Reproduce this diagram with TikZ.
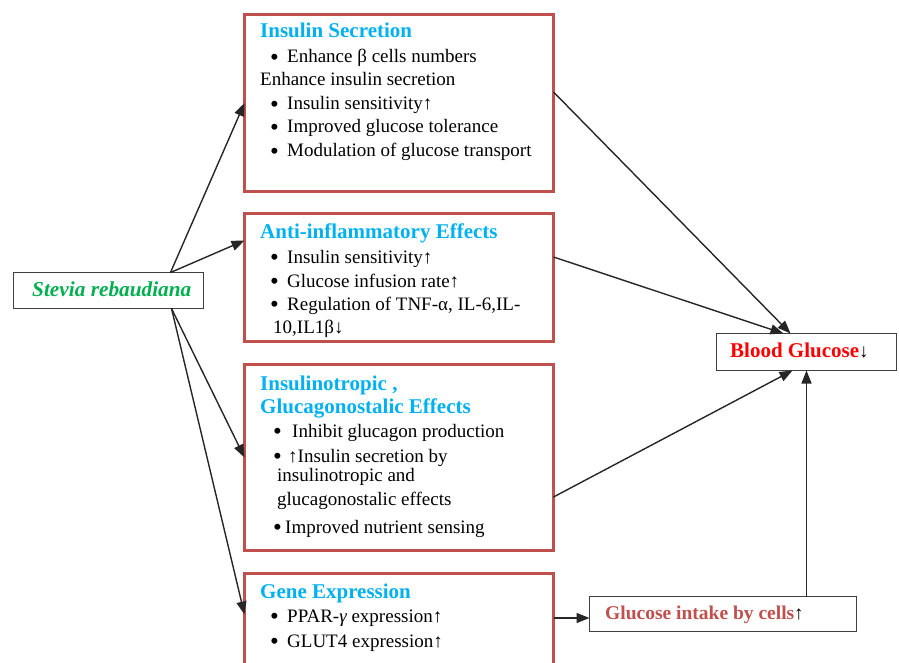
\documentclass[tikz,border=0pt]{standalone}
\usepackage{fontspec}
\setmainfont{Liberation Serif}
\usetikzlibrary{arrows.meta,calc}
\definecolor{boxred}{RGB}{192,80,77}
\definecolor{headcyan}{RGB}{0,176,240}
\definecolor{stgreen}{RGB}{0,176,80}
\definecolor{bgred}{RGB}{255,0,0}
\definecolor{grayline}{RGB}{64,64,64}
\newcommand{\bl}[1]{\makebox[#1][l]{\raisebox{-2.3pt}{\fontsize{25}{25}\selectfont\textbullet}}}
\begin{document}
\begin{tikzpicture}[x=1pt,y=-1pt,
 redbox/.style={draw=boxred,line width=3.5pt,outer sep=0pt,inner sep=0pt,anchor=north west,minimum width=309pt},
 plainbox/.style={draw=grayline,line width=1.3pt,outer sep=0pt,inner sep=0pt,anchor=north west,fill=white},
 head/.style={anchor=base west,inner sep=0pt,font=\fontsize{21}{25}\selectfont\bfseries,text=headcyan},
 body/.style={anchor=base west,inner sep=0pt,font=\fontsize{19}{23}\selectfont},
 conn/.style={draw=black!85,line width=1.4pt,-{Triangle[length=13pt,width=10pt]}}
]
\useasboundingbox (0,0) rectangle (899,663);

% boxes
\node[plainbox,minimum width=190pt,minimum height=36pt] (st) at (13.5,272.5) {};
\node[redbox,minimum height=177pt] (b1) at (244.5,14.5) {};
\node[redbox,minimum height=128pt] (b2) at (244.5,213.5) {};
\node[redbox,minimum height=186pt] (b3) at (244.5,364.5) {};
\node[redbox,minimum height=120pt] (b4) at (244.5,573.5) {};
\node[plainbox,minimum width=180pt,minimum height=37pt] (bg) at (716.5,333.5) {};
\node[plainbox,minimum width=267pt,minimum height=35pt] (gi) at (589.5,596.5) {};

% texts
\node[body,font=\fontsize{21.3}{25}\selectfont\bfseries\itshape,text=stgreen] (stt) at (32,296) {Stevia rebaudiana};

\node[head] (h1) at (260,38) {Insulin Secretion};
\node[body] (t11) at (270,63) {\bl{17pt}Enhance β cells numbers};
\node[body] (t12) at (260,86) {Enhance insulin secretion};
\node[body] (t13) at (270,110) {\bl{17pt}Insulin sensitivity↑};
\node[body] (t14) at (270,133) {\bl{17pt}Improved glucose tolerance};
\node[body] (t15) at (270,157) {\bl{17pt}Modulation of glucose transport};

\node[head] (h2) at (260,238) {Anti-inflammatory Effects};
\node[body] (t21) at (270,263) {\bl{17pt}Insulin sensitivity↑};
\node[body] (t22) at (270,287) {\bl{17pt}Glucose infusion rate↑};
\node[body] (t23) at (270,310) {\bl{17pt}Regulation of TNF-α, IL-6,IL-};
\node[body] (t24) at (273,333) {10,IL1β↓};

\node[head] (h3a) at (260,390) {Insulinotropic ,};
\node[head] (h3b) at (260,413) {Glucagonostalic Effects};
\node[body] (t31) at (273,437) {\bl{19pt}Inhibit glucagon production};
\node[body] (t32) at (273,462) {\bl{15pt}↑Insulin secretion by};
\node[body] (t33) at (277,481) {insulinotropic and};
\node[body] (t34) at (277,505) {glucagonostalic effects};
\node[body] (t35) at (273,533) {\bl{12pt}Improved nutrient sensing};

\node[head] (h4) at (260,598) {Gene Expression};
\node[body] (t41) at (270,622) {\bl{17pt}PPAR-{\itshape γ} expression↑};
\node[body] (t42) at (270,647) {\bl{17pt}GLUT4 expression↑};

\node[body] (bgt) at (730,357) {{\fontsize{21}{25}\selectfont\bfseries\color{bgred}Blood Glucose}↓};
\node[body] (git) at (605,619) {{\fontsize{19.5}{23}\selectfont\bfseries\color{boxred}Glucose intake by cells}↑};

% connectors
\draw[conn] ([xshift=-33pt]st.north east) -- (b1.west);
\draw[conn] ([xshift=-33pt]st.north east) -- ([yshift=37pt]b2.west);
\draw[conn] ([xshift=-32pt]st.south east) -- (b3.west);
\draw[conn] ([xshift=-32pt]st.south east) -- ([yshift=-41pt]b4.north west);

\draw[conn] ([yshift=11pt]b1.east) -- ([xshift=-16pt]bg.north);
\draw[conn] ([yshift=20.5pt]b2.east) -- ([xshift=-23pt]bg.north);
\draw[conn] ([yshift=-39.5pt]b3.east) -- ([xshift=-14pt]bg.south);
\draw[conn] (gi.north -| bg.south) -- (bg.south);
\coordinate (g0) at ([yshift=-44.5pt]b4.north east);
\draw[conn] (g0) -- (g0 -| gi.west);
\end{tikzpicture}
\end{document}
